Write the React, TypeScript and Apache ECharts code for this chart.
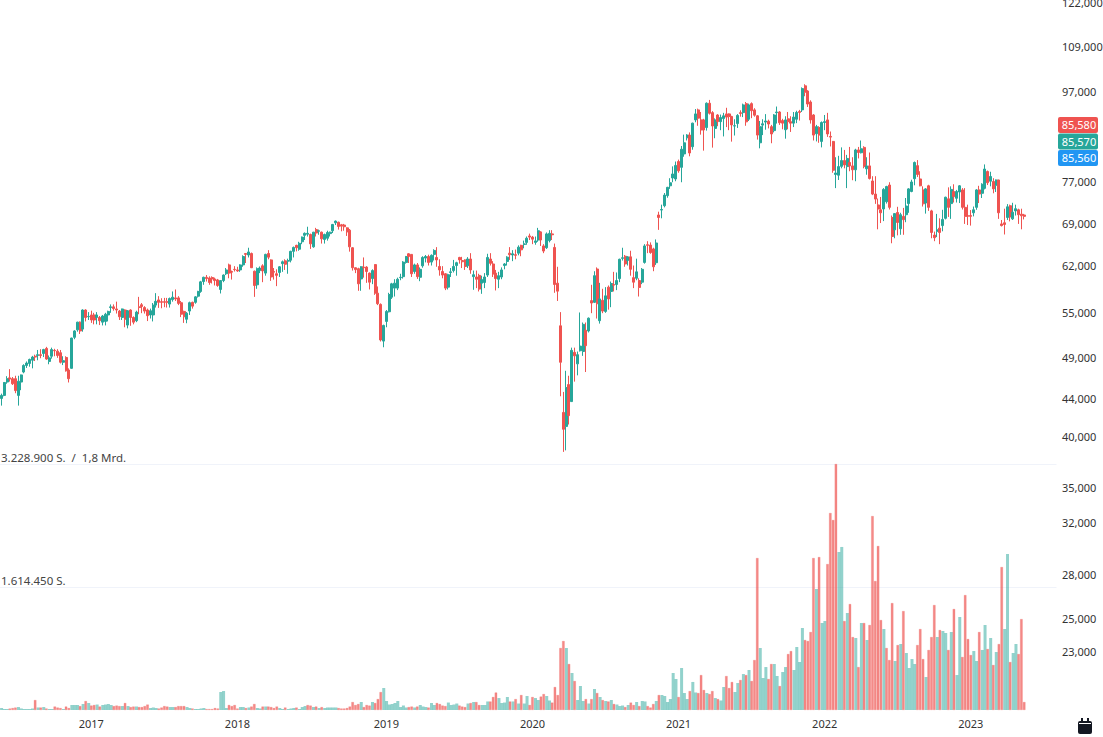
import React, { useEffect, useRef } from "react";
import * as echarts from "echarts";

// Weekly candles, rows are [open, close, low, high]
const candles2016 = [
[44050,44400,43250,44600],[44400,45900,44300,45950],[45950,46350,45750,46650],[46450,46300,46000,47500],[46350,45750,45600,46550],[46350,44950,44650,46700],[44400,46050,43250,46700],[45950,46800,45000,46850],
[47150,47950,47000,48100],[47950,48250,47650,48450],[48200,48700,47800,48800],[48600,49000,47600,49150],[49100,49000,48500,49300],[49200,49300,48600,49900],[49300,49200,48850,50000],[49450,49950,49000,50050],
[50100,48750,48650,50300],[48450,48900,48100,49200],[49100,49950,48800,50200],[49850,49800,49100,50050],[49750,49200,48900,50000],[49550,48350,48200,49900],[48350,48550,48000,49100],[48950,47300,47200,49100],
[47400,46350,45900,47600],[47600,51450,47550,51500],[51550,52400,51300,52500],[52550,53600,52300,53650],[53600,52400,52000,53700],[52650,55300,52300,55400],[55300,54250,53700,55400],[54350,54400,53900,55000],
];
const candles2017 = [
[54600,53900,53500,55200],[54600,53900,53300,54900],[54250,54600,53300,55000],[54250,53800,53200,54450],[53600,54450,53150,54600],[53700,54700,53150,54900],[54600,55100,53700,55200],[55650,55750,54900,56100],
[55750,55500,55200,56100],[55450,55300,54800,56500],[55150,54350,53900,55300],[54250,55450,53900,55500],[55300,54000,52900,55400],[53200,55200,52750,55300],[55300,54250,53100,55400],[54250,53600,53300,54400],
[53800,55000,53600,55200],[55750,55650,54700,57200],[56050,55800,54850,56300],[55650,55150,54800,55850],[55300,54500,53750,55500],[54600,55200,54100,55500],[54600,56000,53700,56300],[56000,56550,55650,57750],
[56750,56400,55600,57300],[56500,56400,55550,57000],[56500,56400,55700,57050],[56500,56400,55650,57050],[56150,56950,55650,57100],[56800,57150,56500,58000],[57050,56900,56600,58300],[57050,56250,56000,57300],
[56350,54700,54300,56600],[55100,54350,53500,55200],[54000,54850,53450,55000],[55150,56350,54600,56500],[56400,55850,55500,56500],[56400,57200,56200,57300],[57300,58000,57100,58100],[58000,59450,57800,59600],
[59500,60150,59000,60250],[60150,59950,59500,60500],[60050,59350,59000,60300],[60120,59900,59200,60300],[59900,59650,58900,60100],[59750,58900,58700,59900],[58300,59650,57700,59700],[59650,60500,59400,60600],
[60700,61300,60500,61600],[62100,60800,60000,62300],[61050,60950,59800,61200],[61400,61350,61050,61900],
];
const candles2018 = [
[61300,61150,61000,61800],[61300,62100,61000,62200],[62100,63450,61800,63650],[63950,63800,62400,64000],[63700,64200,63300,64900],[63950,61650,61600,64100],[61100,58900,57200,61200],[59000,61500,58400,61700],
[61200,61600,60800,61850],[61950,61150,59400,62200],[60800,63800,60400,63900],[63950,63350,63000,64500],[62900,60200,59600,63000],[61050,60950,59800,61600],[60700,60450,58800,61400],[60900,61800,60200,61900],
[62300,62600,61000,62800],[62750,62200,61300,63000],[62700,62800,60700,63100],[62850,64300,62500,64400],[64300,64950,63300,65100],[65300,64900,64300,65400],[64650,65650,64400,65900],[65900,66700,65500,66800],
[67000,67350,66200,67500],[67200,67350,66800,68500],[67150,65550,64700,67300],[65050,67550,64900,67600],[68000,67400,66800,68300],[67700,67800,67100,68000],[67550,66400,65600,67650],[66300,67150,65600,67300],
[66500,67500,66100,67800],[67300,67550,66800,67650],[67800,68900,67400,69000],[69200,69500,68800,69600],[69300,68550,68000,69400],[68850,68600,67700,69000],[68800,68500,67800,69000],[68300,67600,66900,68400],
[67900,65050,64250,68100],[64900,61650,61200,65000],[61650,61350,60800,61700],[61500,59150,58100,61650],[59900,61800,58100,61900],[61750,61650,60100,63300],[61750,61050,59300,61900],[60800,59400,58300,60900],
[59950,61200,59100,61400],[62150,57750,57500,62200],[57750,56200,56000,58750],[56100,51200,51000,56250],[51050,53150,50250,53250],
];
const candles2019 = [
[53700,55100,52900,55300],[55050,57550,54950,57800],[57150,59150,56900,59300],[58500,59250,57250,59850],[58500,59850,58200,60100],[60100,60150,59700,60700],[60250,62550,59950,62700],[62500,63450,62300,63550],
[63900,63450,62400,64000],[63800,60700,60200,63850],[61050,62100,60700,62300],[62100,60250,59900,62400],[60150,61400,59550,61700],[61950,63300,61650,63500],[63200,63450,62500,63700],[63450,62500,62000,63750],
[62550,63650,62000,63800],[63800,64450,62800,64650],[63300,62900,61800,65000],[61850,61300,60400,63000],[61050,60500,60000,61900],[60700,58500,58200,60800],[58650,60550,58300,60700],[60900,61000,60200,61600],
[61200,61850,60900,62900],[62000,62450,60400,62600],[63300,62900,62300,63400],[62800,62600,61600,63400],[62900,61850,61300,63000],[61950,63050,61600,63350],[63050,61300,60700,64000],[60250,60550,58250,61200],
[60200,59850,58500,61200],[60450,58350,58000,60700],[59250,59800,57650,60400],[59350,60200,58500,60800],[60500,63300,60200,63900],[63050,62350,62000,64000],[62250,60650,60200,62700],[60800,59950,58150,61300],
[59850,60400,58500,61000],[60200,61300,59850,61700],[62000,62250,61400,62400],[62650,63350,62000,63500],[64000,63750,62900,65000],[63700,63900,62700,64500],[63750,63650,63000,64600],[64000,65000,63650,65300],
[65300,64550,63500,65400],[65450,65550,64800,66100],[65800,66500,65400,66800],[66900,66700,66200,67300],
];
const candles2020 = [
[66700,66350,65500,66900],[65800,66050,65400,66800],[66200,67800,65900,68300],[67600,66200,65200,67700],[65200,64350,64000,65500],[64900,67250,64700,67500],[66100,67350,65800,67900],[67250,67100,66200,67900],
[64950,59050,57800,65600],[59250,58050,56600,61800],[53100,48350,44300,55000],[42500,40700,38400,44800],[41000,45300,38550,47300],[45650,42150,41200,46700],[43700,49850,43700,50200],[49600,49150,46000,50200],
[48150,49300,46750,49700],[49800,50400,49700,54950],[49700,53300,49150,53550],[52500,50450,47150,53550],[52400,54150,52200,54250],[56650,56300,54850,59000],[56400,60400,56300,61100],[61450,56200,54100,61700],
[53800,56900,53400,59300],[56700,55150,54850,58400],[55100,57350,54900,58650],[58650,56900,55350,58900],[58000,59200,55700,59500],[59050,58950,58000,61000],[59050,59650,58200,60900],[59950,63000,59400,63100],
[63150,63250,62800,64900],[63500,62250,61800,63700],[62800,63400,62000,63500],[63400,61400,60400,64400],[60100,59400,58500,62000],[60000,61000,59700,63100],[59650,58600,57250,60000],[59400,61400,59100,61600],
[62500,65200,62300,65500],[65400,65300,64000,66000],[65350,64100,63900,65800],[64700,61800,61100,64900],[62450,65700,62100,66300],[70600,70150,67950,71200],[71500,71600,70000,72500],[72300,74300,72000,74700],
[74200,75800,73800,75900],[76100,76700,75500,77600],[77650,78450,76800,80000],[77450,80200,77000,81000],
];
const candles2021 = [
[81000,79100,78700,81400],[79800,83600,76800,84300],[82600,85000,82000,86800],[86100,86700,85500,86900],[86700,82800,82100,87300],[84150,89400,83500,89500],[90150,91550,89600,92700],[92500,90550,88800,92800],
[90150,87850,86800,92000],[90150,87850,83300,90400],[88400,94100,87700,94300],[94100,91700,91400,94900],[91850,88750,83950,92200],[88200,90150,86000,90500],[91300,89750,88700,91500],[89750,90700,87800,91400],
[90450,91100,86400,91800],[91550,90800,88500,93000],[91550,90950,87800,91700],[90950,89000,85250,91100],[88750,88800,86600,90300],[89300,91200,88300,91500],[91850,91650,90900,92400],[91850,93700,90800,94000],
[94000,89700,88800,94400],[90300,93700,89900,94000],[94000,92300,90550,94300],[92500,91250,90900,92900],[91100,86700,85700,91300],[85000,88600,83800,89900],[88950,89250,86700,90300],[89650,89900,87900,91500],
[89850,89200,88200,90200],[88600,86950,84900,89000],[87700,91300,87300,91500],[91850,92000,89300,93300],[92000,89500,89000,92200],[90000,89400,88000,90400],[87900,90150,85900,91000],[90400,89750,88000,92000],
[89750,89400,87400,91000],[89400,90800,88500,92000],[90300,91900,89400,92300],[92100,91900,90000,92500],[92500,97700,92000,98000],[98400,96800,95800,98800],[97100,93900,93200,97300],[94400,90150,89300,94800],
[91300,86700,85500,91500],[87000,88600,85300,89000],[88400,86700,85000,88700],[85300,89550,84000,89800],
];
const candles2022 = [
[89550,89750,87800,91300],[90150,86950,86300,91800],[86400,86250,84200,87500],[85300,79200,78700,85400],[78350,78650,75650,81900],[78200,79950,77250,82200],[80000,81200,79600,84000],[81200,80300,79600,83450],
[79950,81650,75650,82400],[80800,80100,79000,84100],[80100,79300,77200,81900],[79300,83450,77000,83700],[83450,82900,81650,84100],[82850,83700,82700,85500],[84000,79950,79600,84250],[79500,80100,78300,81900],
[80100,77550,77350,82900],[77050,74500,74300,78000],[74500,73550,72650,78000],[72450,71700,68050,73650],[71550,71000,69150,73950],[71700,75400,69500,75650],[73050,75950,72700,76100],[76250,72000,71600,76800],
[70150,66800,65650,70500],[67950,70850,66500,70950],[71050,69250,67000,72100],[68150,70650,67100,71000],[70350,69750,67100,71900],[70650,72250,69300,73750],[72700,75500,71000,75650],[75000,76850,74850,77300],
[77500,80800,76200,81000],[80150,78350,77850,81300],[77450,76100,76000,79000],[75300,72650,72150,76000],[72800,75500,70850,75650],[76100,72000,71350,76300],[71350,67500,66500,71550],[67050,66600,66000,67650],
[67700,67950,66700,70800],[68250,67500,65500,70000],[68700,69800,67700,71550],[70000,73900,69800,74000],[73600,72000,70250,75800],[72700,75400,69900,76000],[75000,74000,72900,76400],[73700,75000,72900,75300],
[74900,76100,72800,76250],[75300,72000,71600,75650],[72000,70350,69000,75650],[70500,70350,68800,72500],
];
const candles2023 = [
[70500,70350,68700,71500],[71000,71550,70350,72150],[72000,75300,71550,75450],[75300,74500,72800,76100],[74650,76400,73750,76600],[75600,79450,75400,80400],[78950,76700,76250,79150],[77000,77950,76000,78900],
[76950,75500,74650,77600],[76200,77250,74900,77350],[77250,71000,69900,77300],[69000,68700,68550,69700],[69200,68900,67150,71750],[70150,72100,69700,72600],[72300,70250,69450,72500],[69900,71100,69700,72850],
[71350,71750,70500,72500],[71550,70650,69000,71750],[70750,70450,68050,71750],[70600,70350,69800,70800],
];

// Weekly volume, thousands of shares
const volume2016 = [26,13,13,20,26,33,39,20,13,13,13,20,131,33,33,39,20,13,13,46,33,26,13,46,26,66,66,66,52,79,118,92];
const volume2017 = [59,66,72,46,66,72,79,66,52,59,52,52,92,52,39,46,46,39,39,52,72,26,33,26,20,33,52,46,39,39,39,52,52,52,39,26,20,13,13,20,26,13,13,13,26,20,236,249,26,66,52,66];
const volume2018 = [20,39,39,26,33,46,79,26,20,46,46,46,39,26,46,26,13,33,13,20,26,33,13,39,52,66,59,39,46,26,39,26,33,33,33,33,26,20,20,26,46,105,66,79,105,39,66,59,105,92,144,236,289];
const volume2019 = [118,72,79,92,118,39,59,33,39,46,33,46,66,46,39,33,92,66,92,79,59,52,98,66,72,85,59,46,39,85,92,105,105,66,66,66,112,112,171,230,157,92,98,171,112,112,144,85,197,85,184,66];
const volume2020 = [171,157,131,177,210,184,125,98,302,197,814,906,814,604,486,381,131,315,118,144,85,144,276,223,171,131,118,112,131,79,72,52,59,39,66,98,66,105,52,118,112,52,33,79,118,197,197,184,105,144,486,407];
const volume2021 = [171,551,223,144,249,368,230,223,459,263,223,210,249,157,144,125,302,446,289,368,236,354,394,472,459,525,381,656,1995,814,420,564,407,604,604,446,315,499,564,735,774,525,827,630,1076,919,906,1024,1995,1588,2008,1142];
const volume2022 = [1168,1916,2586,2494,3229,2074,2140,1168,1273,1391,958,945,564,1142,1142,919,1116,2546,1693,2153,1181,1063,814,656,1404,643,853,866,1299,748,551,669,604,853,1063,669,433,788,958,1378,958,1050,1037,1011,788,1024,1326,459,1221,696,1509,932];
const volume2023 = [722,774,643,1024,788,1116,801,945,591,761,866,1877,1063,2048,630,748,866,735,1194,105];

// Weeks whose volume bar has the opposite colour of how its narrow candle reads
const volumeColourExceptions = [109, 278, 284, 297, 315, 357];

const yearLabels = ["2017", "2018", "2019", "2020", "2021", "2022", "2023"];
const yearIndexes = [32, 84, 137, 189, 241, 293, 345];
const priceTicks = [122000, 109000, 97000, 77000, 69000, 62000, 55000, 49000, 44000, 40000, 35000, 32000, 28000, 25000, 23000];
const volumeMax = 3228.9;
const volumeLabels = ["3.228.900 S.  /  1,8 Mrd.", "1.614.450 S."];
const priceTags = ["85,580", "85,570", "85,560"];

const UP = "#26A69A";
const DOWN = "#EF5350";
const FONT = '"Noto Sans", sans-serif';
const LOG_UNIT = 1000;

export default function App() {
  const ref = useRef<HTMLDivElement>(null);
  useEffect(() => {
    document.body.style.margin = "0";
    const chart = echarts.init(ref.current!, null, { renderer: "svg" });
    const candles = [...candles2016, ...candles2017, ...candles2018, ...candles2019, ...candles2020, ...candles2021, ...candles2022, ...candles2023];
    const volume = [...volume2016, ...volume2017, ...volume2018, ...volume2019, ...volume2020, ...volume2021, ...volume2022, ...volume2023];
    const slots = 376;
    const categories = Array.from({ length: slots }, (_, i) => {
      const k = yearIndexes.indexOf(i);
      return k >= 0 ? yearLabels[k] : "w" + i;
    });
    const toAxis = (p: number) => Math.log(p) * LOG_UNIT;
    const candleData = candles.map(([o, c, l, h]) => [
      toAxis(o),
      toAxis(c),
      toAxis(Math.min(o, c, l)),
      toAxis(Math.max(o, c, h)),
    ]);
    const isUpVolume = (i: number) => {
      const up = candles[i][1] >= candles[i][0];
      return volumeColourExceptions.includes(i) ? !up : up;
    };
    const upVolume = volume.map((v, i) => (isUpVolume(i) ? v : null));
    const downVolume = volume.map((v, i) => (isUpVolume(i) ? null : v));
    const pxPerLog = 389;
    const anchor = Math.log(40000);
    const axisMax = (anchor + 436 / pxPerLog) * LOG_UNIT;
    const axisMin = (anchor - (737 - 436) / pxPerLog) * LOG_UNIT;

    const tagColours = [DOWN, UP, "#2196F3"];
    const tagTops = [117, 133.5, 150];
    const graphic: any[] = [
      ...volumeLabels.map((t, i) => ({
        type: "text",
        x: 1,
        y: [451, 574][i],
        style: { text: t, fill: "#444", font: `11.5px ${FONT}` },
      })),
      ...priceTags.flatMap((t, i) => [
        { type: "rect", shape: { x: 1058, y: tagTops[i], width: 40, height: 16, r: 2 }, style: { fill: tagColours[i] } },
        {
          type: "text",
          x: 1079,
          y: tagTops[i] + 7.5,
          style: { text: t, fill: "#fff", font: `11px ${FONT}`, align: "center", verticalAlign: "middle" },
        },
      ]),
      { type: "rect", shape: { x: 1078, y: 721, width: 14, height: 13, r: 2 }, style: { fill: "#131722" } },
      { type: "rect", shape: { x: 1081, y: 718, width: 2, height: 3 }, style: { fill: "#131722" } },
      { type: "rect", shape: { x: 1087, y: 718, width: 2, height: 3 }, style: { fill: "#131722" } },
      { type: "rect", shape: { x: 1079, y: 723, width: 12, height: 1 }, style: { fill: "#ffffff" } },
    ];

    chart.setOption({
      animation: false,
      backgroundColor: "#ffffff",
      textStyle: { fontFamily: FONT },
      grid: [
        { left: 0, top: 0, width: 1056.5, height: 737, outerBoundsMode: "none" },
        { left: 0, top: 464, width: 1056.5, height: 246, outerBoundsMode: "none" },
      ],
      xAxis: [
        { type: "category", gridIndex: 0, data: categories, show: false, boundaryGap: true },
        {
          type: "category",
          gridIndex: 1,
          data: categories,
          boundaryGap: true,
          axisLine: { show: false },
          axisTick: { show: false },
          splitLine: { show: false },
          axisLabel: {
            interval: (i: number) => yearIndexes.includes(i),
            color: "#333",
            fontSize: 11,
            fontFamily: FONT,
            margin: 8,
          },
        },
      ],
      yAxis: [
        {
          type: "value",
          gridIndex: 0,
          position: "right",
          min: axisMin,
          max: axisMax,
          axisLine: { show: false },
          axisTick: { show: false },
          splitLine: { show: false },
          axisLabel: {
            customValues: priceTicks.map(toAxis),
            formatter: (v: number) => (Math.round(Math.exp(v / LOG_UNIT) / 100) * 100).toLocaleString("en-US"),
            color: "#333",
            fontSize: 11,
            fontFamily: FONT,
            margin: 5.5,
          },
        },
        {
          type: "value",
          gridIndex: 1,
          min: 0,
          max: volumeMax,
          interval: volumeMax / 2,
          axisLine: { show: false },
          axisTick: { show: false },
          axisLabel: { show: false },
          splitLine: { show: true, showMinLine: false, lineStyle: { color: "#F0F3FA", width: 1 } },
        },
      ],
      series: [
        {
          type: "bar",
          xAxisIndex: 1,
          yAxisIndex: 1,
          data: upVolume,
          barWidth: 3,
          barGap: "-100%",
          itemStyle: { color: "rgba(38,166,154,0.5)" },
        },
        {
          type: "bar",
          xAxisIndex: 1,
          yAxisIndex: 1,
          data: downVolume,
          barWidth: 2.6,
          barGap: "-100%",
          itemStyle: { color: "rgba(239,83,80,0.68)", borderColor: "rgba(239,83,80,0.45)", borderWidth: 0.5 },
        },
        {
          type: "candlestick",
          xAxisIndex: 0,
          yAxisIndex: 0,
          data: candleData,
          barWidth: 2.5,
          itemStyle: { color: UP, color0: DOWN, borderColor: UP, borderColor0: DOWN, borderWidth: 1 },
        },
      ],
      graphic,
    });
    return () => chart.dispose();
  }, []);
  return <div ref={ref} style={{ position: "fixed", left: 0, top: 0, width: 1103, height: 737 }} />;
}
